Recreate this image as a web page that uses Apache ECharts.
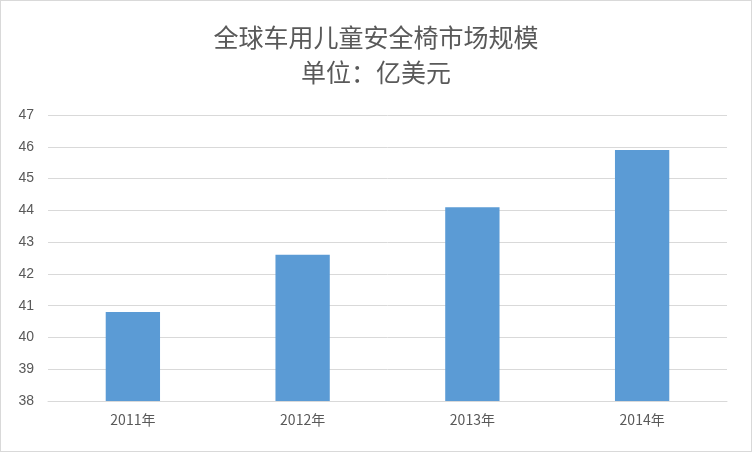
<!DOCTYPE html>
<html><head><meta charset="utf-8">
<script src="https://cdn.jsdelivr.net/npm/echarts@6/dist/echarts.min.js"></script>
<style>html,body{margin:0;padding:0;background:#fff}#c{width:752px;height:452px;box-sizing:border-box;border:1px solid #d9d9d9}</style>
</head><body><div id="c"></div>
<script>
const categories = ['2011年','2012年','2013年','2014年'];
const values = [40.8, 42.6, 44.1, 45.9];
const chart = echarts.init(document.getElementById('c'));
chart.setOption({
  animation:false,
  title:{text:'全球车用儿童安全椅市场规模\n单位：亿美元',left:'center',top:14,
    textStyle:{fontFamily:'Noto Sans CJK SC',fontSize:25,fontWeight:'normal',color:'#595959',lineHeight:35}},
  grid:{left:47,right:24,top:114,bottom:50},
  xAxis:{type:'category',data:categories,axisTick:{show:false},
    axisLine:{lineStyle:{color:'#d9d9d9'}},
    axisLabel:{color:'#595959',fontSize:14,fontFamily:'Noto Sans CJK SC',margin:12}},
  yAxis:{type:'value',min:38,max:47,interval:1,
    axisLabel:{color:'#595959',fontSize:14,margin:14},
    splitLine:{lineStyle:{color:'#d9d9d9'}}},
  series:[{type:'bar',data:values,barWidth:'32%',itemStyle:{color:'#5b9bd5'}}]
});
</script></body></html>
